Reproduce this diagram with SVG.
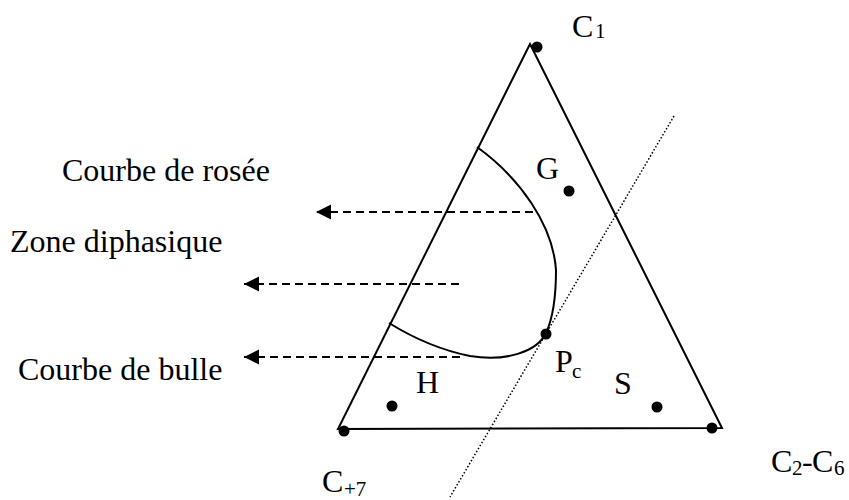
<svg xmlns="http://www.w3.org/2000/svg" width="849" height="500" viewBox="0 0 849 500">
<style>
.t{font-family:"Liberation Serif","Times New Roman",serif;fill:#000}
.lbl{font-size:32px}
.pt{font-size:32px}
.sub{font-size:21px}
.edge{fill:none;stroke:#000;stroke-width:2}
.dash{fill:none;stroke:#000;stroke-width:2;stroke-dasharray:8,5}
.dot{fill:#000}
</style>
<defs>
<marker id="ah" markerUnits="userSpaceOnUse" markerWidth="16" markerHeight="16" viewBox="0 0 16 16" refX="15" refY="8" orient="auto">
<path d="M0,0.5 L15,8 L0,15.5 Z" fill="#000"/>
</marker>
</defs>
<rect width="849" height="500" fill="#fff"/>
<g id="triangle">
<path class="edge" d="M530,44 L722,428 L338,429 Z" stroke-linejoin="miter"/>
</g>
<g id="phase-envelope">
<path class="edge" d="M477,147 C520,178 553,225 556,270 C556,295 553,318 546,333 C537,352 505,362 470,356 C440,350 410,336 389,323"/>
</g>
<g id="connectors">
<line class="dash" x1="533" y1="212" x2="316" y2="212" marker-end="url(#ah)"/>
<line class="dash" x1="459" y1="284" x2="244" y2="284" marker-end="url(#ah)"/>
<line class="dash" x1="460" y1="357" x2="244" y2="357" marker-end="url(#ah)"/>
<line x1="674" y1="116" x2="450" y2="497" stroke="#000" stroke-width="1.5" stroke-dasharray="1.5,2"/>
</g>
<g id="C1"><circle class="dot" cx="537" cy="47" r="5.5"/><text class="t pt" x="572" y="37">C</text><text class="t sub" x="595" y="38">1</text></g>
<g id="C7"><circle class="dot" cx="344" cy="431" r="5.5"/><text class="t pt" x="322" y="492">C</text><text class="t sub" x="344" y="496">+7</text></g>
<g id="C2C6"><circle class="dot" cx="712" cy="428" r="5.5"/><text class="t pt" x="771" y="472">C</text><text class="t sub" x="792" y="475">2</text><text class="t pt" x="802" y="472">-</text><text class="t pt" x="812" y="472">C</text><text class="t sub" x="834" y="475">6</text></g>
<g id="G"><circle class="dot" cx="569" cy="191" r="5.5"/><text class="t pt" x="536" y="179">G</text></g>
<g id="H"><circle class="dot" cx="392" cy="406" r="5.5"/><text class="t pt" x="416" y="393">H</text></g>
<g id="S"><circle class="dot" cx="657" cy="407" r="5.5"/><text class="t pt" x="614" y="394">S</text></g>
<g id="Pc"><circle class="dot" cx="546" cy="334" r="5.5"/><text class="t pt" x="555" y="372">P</text><text class="t sub" x="572" y="378">c</text></g>
<g id="labels">
<text class="t lbl" x="62" y="181">Courbe de rosée</text>
<text class="t lbl" x="10" y="252">Zone diphasique</text>
<text class="t lbl" x="18" y="380">Courbe de bulle</text>
</g>
</svg>
